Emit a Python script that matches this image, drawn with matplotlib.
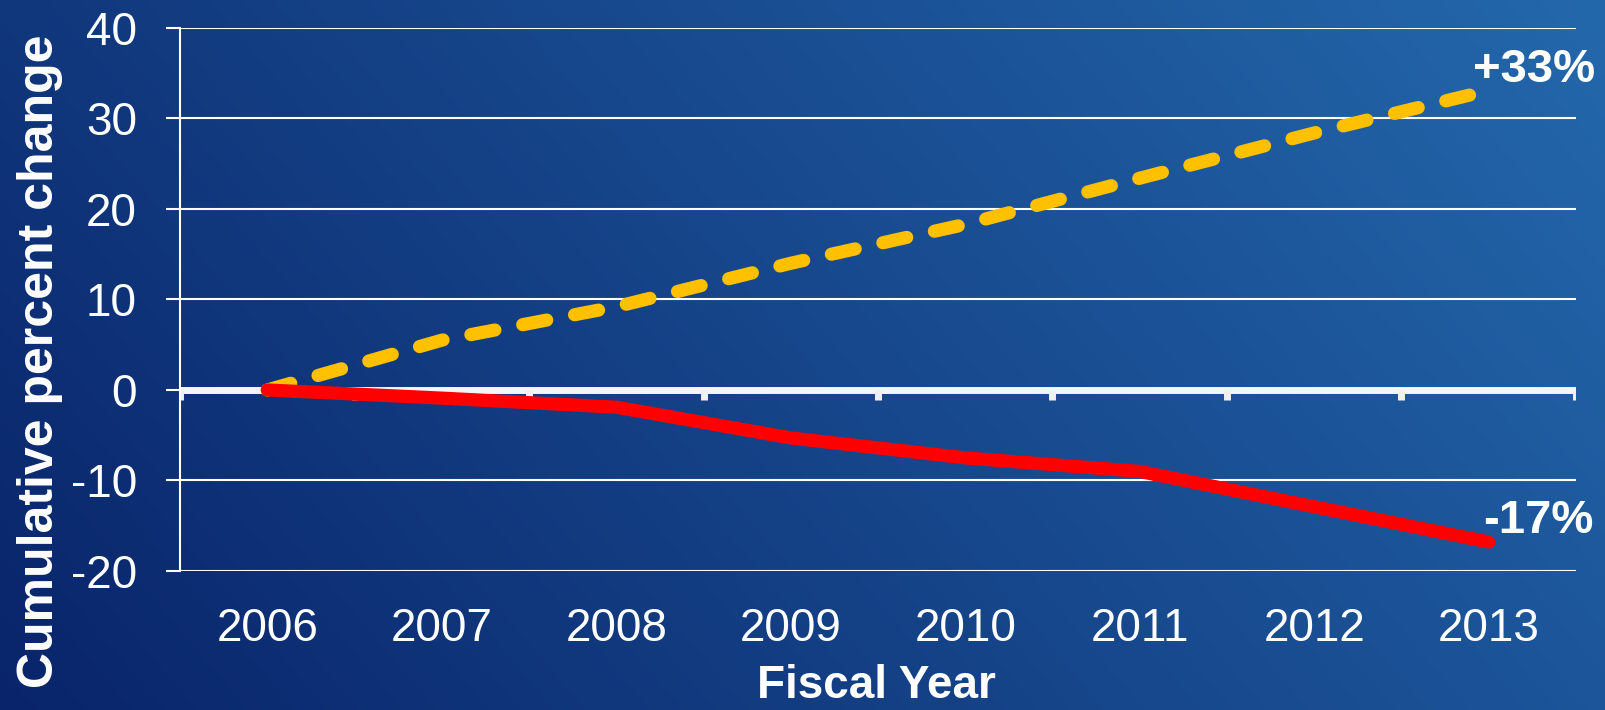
import numpy as np
import matplotlib
matplotlib.use("Agg")
import matplotlib.pyplot as plt

plt.rcParams["font.family"] = ["Liberation Sans", "DejaVu Sans"]

YEARS = ["2006", "2007", "2008", "2009", "2010", "2011", "2012", "2013"]
SERIES_UP = [0, 5.5, 9.2, 14.0, 18.3, 23.4, 28.4, 33.1]
SERIES_DOWN = [0, -0.9, -1.9, -5.3, -7.5, -9.0, -12.9, -16.8]
LABEL_UP = "+33%"
LABEL_DOWN = "-17%"
Y_TICKS = [-20, -10, 0, 10, 20, 30, 40]

YELLOW = "#FFC000"
RED = "#FF0000"
WHITE = "white"


def gradient_background(fig):
    bg = fig.add_axes([0, 0, 1, 1], zorder=-10)
    h, w = 200, 400
    u = np.linspace(0, 1, w)[None, :]
    v = np.linspace(1, 0, h)[:, None]
    t = np.clip((0.8 * u + 0.3 * v) / 1.1, 0, 1)
    c0 = np.array([9, 36, 106]) / 255
    c1 = np.array([36, 104, 172]) / 255
    img = c0[None, None, :] * (1 - t[..., None]) + c1[None, None, :] * t[..., None]
    bg.imshow(img, aspect="auto", extent=[0, 1, 0, 1], interpolation="bilinear")
    bg.axis("off")


def main():
    fig = plt.figure(figsize=(16.06, 7.10), dpi=100)
    gradient_background(fig)

    ax = fig.add_axes([0.1121, 0.1958, 0.8692, 0.7648])
    ax.set_facecolor("none")

    x = np.arange(len(YEARS))

    ax.set_xlim(-0.5, len(YEARS) - 0.5)
    ax.set_ylim(Y_TICKS[0], Y_TICKS[-1])
    ax.set_yticks(Y_TICKS)
    ax.set_yticklabels([str(t) for t in Y_TICKS])
    ax.set_xticks(x)
    ax.set_xticklabels(YEARS)

    for side in ["top", "right", "bottom"]:
        ax.spines[side].set_visible(False)
    ax.spines["left"].set_color(WHITE)
    ax.spines["left"].set_linewidth(1.5)

    ax.yaxis.grid(True, color=WHITE, lw=1.5, zorder=1)
    ax.set_axisbelow(True)
    ax.tick_params(axis="y", colors=WHITE, labelsize=33, length=10, width=1.5, pad=21)
    ax.tick_params(axis="x", colors=WHITE, labelsize=33, length=0, pad=26)

    # zero line with category separators
    ax.axhline(0, color="#f5f5f5", lw=5, zorder=2)
    bounds = np.arange(len(YEARS) + 1) - 0.5
    ax.vlines(bounds, -1.1, 0, color="#f0f0f0", lw=5, zorder=2)

    up, = ax.plot(x, SERIES_UP, color=YELLOW, lw=9.5, zorder=3,
                  dash_capstyle="round", solid_capstyle="round")
    up.set_dashes((1.85, 2.15))
    ax.plot(x, SERIES_DOWN, color=RED, lw=9.5, zorder=4,
            solid_capstyle="round", solid_joinstyle="round")

    ax.annotate(LABEL_UP, xy=(x[-1], SERIES_UP[-1]), xytext=(-11.5, 14.5),
                textcoords="offset points", ha="left", va="center",
                color=WHITE, fontsize=34, fontweight="bold")
    ax.annotate(LABEL_DOWN, xy=(x[-1], SERIES_DOWN[-1]), xytext=(-4, 15),
                textcoords="offset points", ha="left", va="center",
                color=WHITE, fontsize=34, fontweight="bold")

    fig.text(0.025, 0.491, "Cumulative percent change", rotation=90,
             ha="center", va="center", color=WHITE, fontsize=36, fontweight="bold")
    fig.text(0.546, 0.003, "Fiscal Year", ha="center", va="bottom",
             color=WHITE, fontsize=33, fontweight="bold")

    fig.savefig("out.png", dpi=100)
    plt.close(fig)


if __name__ == "__main__":
    main()
